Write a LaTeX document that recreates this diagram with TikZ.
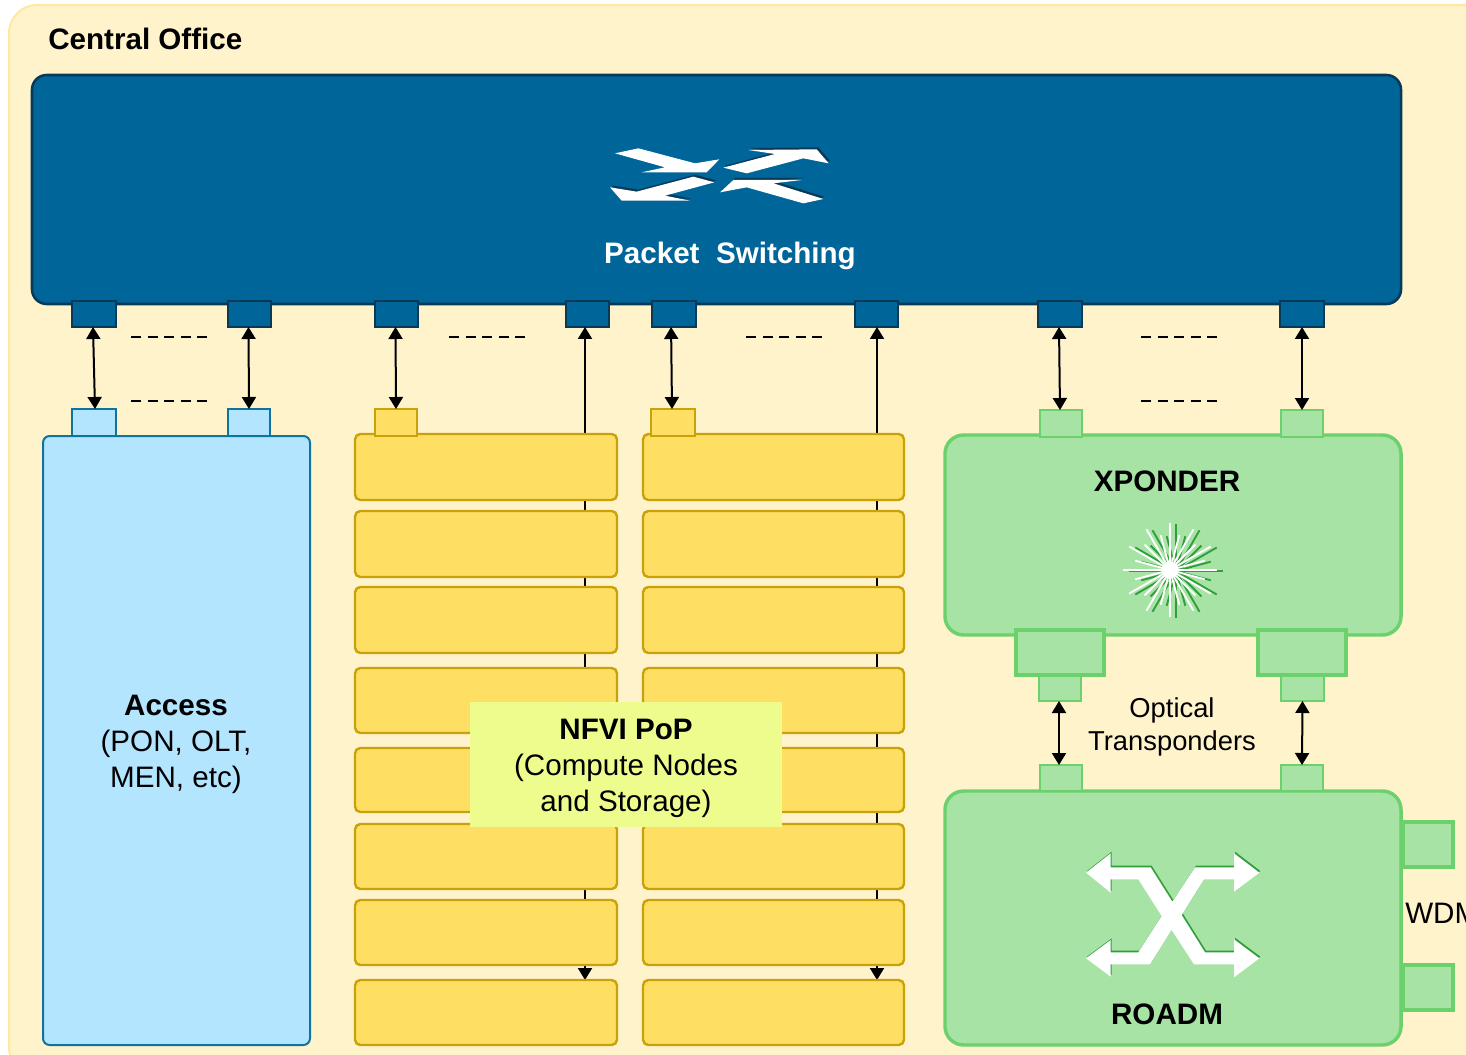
\documentclass[tikz,border=0pt]{standalone}
\usepackage{fontspec}
\setmainfont{Liberation Sans}
\usetikzlibrary{arrows.meta}
\definecolor{cbg}{RGB}{255,243,204}
\definecolor{cbgl}{RGB}{255,232,160}
\definecolor{cblue}{RGB}{0,101,153}
\definecolor{cblued}{RGB}{8,58,88}
\definecolor{cacc}{RGB}{180,229,255}
\definecolor{caccl}{RGB}{16,115,158}
\definecolor{cyel}{RGB}{255,222,100}
\definecolor{cyell}{RGB}{200,162,8}
\definecolor{cgrn}{RGB}{166,227,165}
\definecolor{cgrnl}{RGB}{108,208,108}
\definecolor{cgrnd}{RGB}{48,158,58}
\definecolor{clab}{RGB}{238,251,141}
\newcommand{\bx}[6]{%
  \pgfmathsetmacro{\bxw}{(#5-#3)*0.75}%
  \pgfmathsetmacro{\bxh}{(#6-#4)*0.75}%
  \node[#1,minimum width=\bxw pt,minimum height=\bxh pt] (#2) at ({(#3+#5)/2},{(#4+#6)/2}) {};}
\tikzset{
  base/.style={inner sep=0pt,outer sep=0pt,line width=1.9pt,rectangle},
  swbox/.style={base,draw=cblued,fill=cblue,rounded corners=11pt},
  swport/.style={base,draw=cblued,fill=cblue},
  accbox/.style={base,draw=caccl,fill=cacc,line width=1.5pt,rounded corners=5pt},
  accport/.style={base,draw=caccl,fill=cacc,line width=1.2pt},
  yelbox/.style={base,draw=cyell,fill=cyel,line width=1.8pt,rounded corners=4pt},
  yelport/.style={base,draw=cyell,fill=cyel,line width=1.8pt},
  grnbox/.style={base,draw=cgrnl,fill=cgrn,line width=2.6pt,rounded corners=14pt},
  grnport/.style={base,draw=cgrnl,fill=cgrn,line width=2.3pt},
  grnsmall/.style={base,draw=cgrnl,fill=cgrn,line width=1.8pt},
  labbox/.style={base,fill=clab},
  biarrow/.style={line width=1.5pt,black,{Triangle[width=10.5pt,length=9pt]}-{Triangle[width=10.5pt,length=9pt]}},
  dashline/.style={line width=1.5pt,black,dash pattern=on 7.5pt off 4.9pt},
  boldtxt/.style={font=\fontsize{22.2}{27}\selectfont\bfseries,inner sep=0pt,align=center},
  regtxt/.style={font=\fontsize{22.2}{27}\selectfont,inner sep=0pt,align=center},
}
\begin{document}
\begin{tikzpicture}[x=0.75pt,y=-0.75pt]
\useasboundingbox (0,0) rectangle (1466,1055);
\begin{scope}
\clip (0,0) rectangle (1466,1055);
\draw[cbgl,fill=cbg,line width=1.5pt,rounded corners=21pt] (9,5) rectangle (1490,1075);

\bx{swbox}{sw}{32}{75}{1401}{304}
\bx{swport}{p1}{72}{301}{116}{327}
\bx{swport}{p2}{228}{301}{271}{327}
\bx{swport}{p3}{375}{301}{418}{327}
\bx{swport}{p4}{566}{301}{609}{327}
\bx{swport}{p5}{652}{301}{696}{327}
\bx{swport}{p6}{855}{301}{898}{327}
\bx{swport}{p7}{1038}{301}{1082}{327}
\bx{swport}{p8}{1280}{301}{1324}{327}

% long arrows run behind the yellow boxes
\coordinate (e4) at (585,980);
\coordinate (e6) at (877,980);
\draw[biarrow] (p4.south -| e4) -- (e4);
\draw[biarrow] (p6.south -| e6) -- (e6);

% access
\bx{accbox}{acc}{43}{436}{310}{1045}
\bx{accport}{a1}{72}{409}{116}{436}
\bx{accport}{a2}{228}{409}{270}{436}

% yellow stacks
\bx{yelbox}{la}{355}{434}{617}{500}
\bx{yelbox}{lb}{355}{511}{617}{577}
\bx{yelbox}{lc}{355}{587}{617}{653}
\bx{yelbox}{ld}{355}{668}{617}{733}
\bx{yelbox}{le}{355}{748}{617}{812}
\bx{yelbox}{lf}{355}{824}{617}{889}
\bx{yelbox}{lg}{355}{900}{617}{965}
\bx{yelbox}{lh}{355}{980}{617}{1045}
\bx{yelbox}{ra}{643}{434}{904}{500}
\bx{yelbox}{rb}{643}{511}{904}{577}
\bx{yelbox}{rc}{643}{587}{904}{653}
\bx{yelbox}{rd}{643}{668}{904}{733}
\bx{yelbox}{re}{643}{748}{904}{812}
\bx{yelbox}{rf}{643}{824}{904}{889}
\bx{yelbox}{rg}{643}{900}{904}{965}
\bx{yelbox}{rh}{643}{980}{904}{1045}
\bx{yelport}{y1}{375}{409}{417}{436}
\bx{yelport}{y2}{651}{409}{695}{436}
\bx{labbox}{nfvi}{470}{702}{782}{827}

% green
\bx{grnsmall}{xlo1}{1039}{675}{1081}{701}
\bx{grnsmall}{xlo2}{1281}{675}{1324}{701}
\bx{grnbox}{xp}{945}{435}{1401}{635}
\bx{grnsmall}{xt1}{1040}{410}{1082}{437}
\bx{grnsmall}{xt2}{1281}{410}{1323}{437}
\bx{grnport}{xm1}{1016}{630}{1104}{675}
\bx{grnport}{xm2}{1258}{630}{1346}{675}
\bx{grnbox}{ro}{945}{791}{1401}{1045}
\bx{grnsmall}{rt1}{1040}{765}{1082}{791}
\bx{grnsmall}{rt2}{1281}{765}{1323}{791}
\bx{grnport}{w1}{1403}{822}{1453}{867}
\bx{grnport}{w2}{1403}{965}{1453}{1010}

% connectors
\draw[biarrow] ([xshift=-0.75pt]p1.south) -- ([xshift=0.75pt]a1.north);
\draw[biarrow] ([xshift=-0.75pt]p2.south) -- (a2.north);
\draw[biarrow] ([xshift=-0.75pt]p3.south) -- (y1.north);
\draw[biarrow] ([xshift=-2.2pt]p5.south) -- ([xshift=-0.75pt]y2.north);
\draw[biarrow] ([xshift=-0.75pt]p7.south) -- ([xshift=-0.75pt]xt1.north);
\draw[biarrow] (p8.south) -- (xt2.north);
\draw[biarrow] ([xshift=-0.75pt]xlo1.south) -- ([xshift=-1.5pt]rt1.north);
\draw[biarrow] (xlo2.south) -- (rt2.north);

% dash marks
\draw[dashline] (131,337) -- (208,337);
\draw[dashline] (131,401) -- (208,401);
\draw[dashline] (449,337) -- (526,337);
\draw[dashline] (746,337) -- (823,337);
\draw[dashline] (1141,337) -- (1218,337);
\draw[dashline] (1141,401) -- (1218,401);

% packet switching icon
\begin{scope}[shift={(590,130)},x=0.25pt,y=-0.25pt]
  \foreach \dx/\dy/\col in {5/-6/cblued,0/0/white}{
    \begin{scope}[shift={(\dx,\dy)}]
    \fill[\col] (400,113)--(555,72)--(475,60)--(680,58)--(716,100)--(640,85)--(470,130)--cycle;
    \fill[\col] (60,172)--(140,185)--(310,140)--(373,157)--(225,197)--(300,212)--(95,212)--cycle;
    \fill[\col] (390,187)--(430,150)--(635,150)--(550,160)--(700,207)--(640,220)--(470,172)--cycle;
    \end{scope}
  }
  \fill[white] (75,70)--(145,55)--(315,100)--(388,88)--(350,127)--(155,127)--(225,112)--cycle;
\end{scope}

% laser star icon
\begin{scope}[shift={(1170,570)}]
  \foreach \dx/\dy/\col in {6/1/cgrnd,0/0/white}{
    \begin{scope}[shift={(\dx,\dy)}]
    \foreach \a in {0,30,...,330}{\draw[\col,line width=1.4pt] (0,0) -- (\a:47);}
    \foreach \a in {15,45,...,345}{\draw[\col,line width=1.4pt] (0,0) -- (\a:36);}
    \end{scope}
  }
  \fill[white] (0,0) circle (8);
\end{scope}

% roadm icon
\begin{scope}[shift={(1060,830)},x=0.25pt,y=-0.25pt]
  \foreach \dx/\dy/\col in {3/-5/cgrnd,0/0/white}{
    \fill[\col,shift={(\dx,\dy)}] (78,128)--(152,70)--(152,112)--(272,112)--(337,215)--(405,112)--(522,112)--(522,70)--(598,128)--(522,185)--(522,148)--(432,148)--(365,255)--(435,367)--(522,367)--(522,328)--(598,385)--(522,442)--(522,403)--(402,403)--(335,300)--(270,403)--(152,403)--(152,440)--(78,385)--(152,330)--(152,367)--(235,367)--(305,258)--(235,148)--(152,148)--(152,188)--cycle;
  }
\end{scope}

% texts
\node[boldtxt,anchor=west] (tco) at (48,39) {Central Office};
\node[boldtxt,white] (tps) at (730,256) {Packet\ \ Switching};
\node[regtxt] (tac) at (176,744) {{\bfseries Access}\\(PON, OLT,\\MEN, etc)};
\node[regtxt] (tnf) at (626,768) {{\bfseries NFVI PoP}\\(Compute Nodes\\and Storage)};
\node[boldtxt] (txp) at (1167,481) {XPONDER};
\node[boldtxt] (trm) at (1167,1014) {ROADM};
\node[font=\fontsize{20.5}{25}\selectfont,inner sep=0pt,align=center] (top) at (1172,727) {Optical\\Transponders};
\node[regtxt,anchor=west] (twd) at (1405,913) {WDM};
\end{scope}
\end{tikzpicture}
\end{document}
